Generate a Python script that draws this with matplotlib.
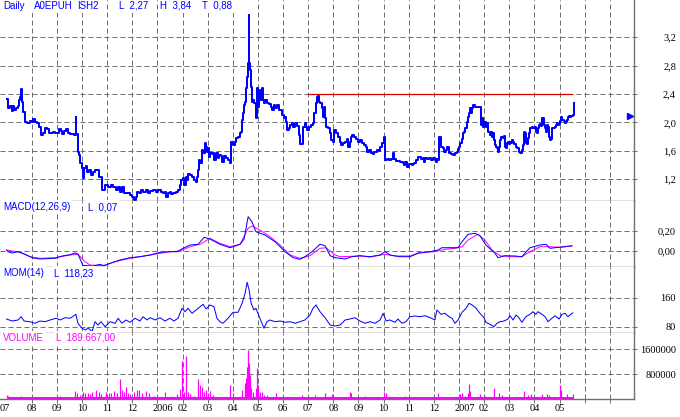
import matplotlib
matplotlib.use("Agg")
import matplotlib.pyplot as plt
from matplotlib.transforms import blended_transform_factory

# time axis: months since 2005-07 (1 = Aug 2005, 7 = Jan 2006, 19 = Jan 2007)
price_t = [0.00, 0.06, 0.14, 0.22, 0.26, 0.30, 0.38, 0.46, 0.50, 0.54, 0.58, 0.62, 0.66, 0.72,
           0.74, 0.82, 0.93, 1.01, 1.05, 1.13, 1.21, 1.29, 1.37, 1.45, 1.53, 1.61, 1.69, 1.77,
           1.85, 1.93, 2.01, 2.09, 2.17, 2.21, 2.29, 2.37, 2.45, 2.53, 2.61, 2.68, 2.72, 2.76,
           2.78, 2.84, 2.88, 2.92, 3.00, 3.04, 3.08, 3.16, 3.20, 3.28, 3.36, 3.44, 3.52, 3.56,
           3.68, 3.80, 3.92, 4.04, 4.16, 4.24, 4.36, 4.44, 4.51, 4.59, 4.67, 4.79, 4.91, 4.99,
           5.07, 5.15, 5.19, 5.27, 5.35, 5.43, 5.55, 5.63, 5.71, 5.83, 5.95, 6.03, 6.15, 6.22,
           6.30, 6.34, 6.42, 6.50, 6.54, 6.62, 6.74, 6.82, 6.90, 6.94, 7.02, 7.06, 7.14, 7.18,
           7.22, 7.30, 7.38, 7.46, 7.54, 7.58, 7.62, 7.66, 7.70, 7.78, 7.82, 7.90, 7.94, 7.98,
           8.01, 8.05, 8.09, 8.17, 8.21, 8.25, 8.33, 8.41, 8.45, 8.53, 8.57, 8.65, 8.73, 8.81,
           8.89, 8.93, 9.01, 9.09, 9.13, 9.21, 9.29, 9.33, 9.37, 9.41, 9.45, 9.49, 9.53, 9.57,
           9.61, 9.63, 9.65, 9.69, 9.73, 9.76, 9.80, 9.84, 9.92, 9.96, 10.00, 10.04, 10.08,
           10.16, 10.20, 10.24, 10.28, 10.36, 10.44, 10.52, 10.56, 10.64, 10.68, 10.76, 10.84,
           10.92, 10.96, 11.04, 11.08, 11.12, 11.16, 11.24, 11.28, 11.36, 11.40, 11.48, 11.56,
           11.63, 11.67, 11.75, 11.79, 11.87, 11.91, 11.95, 12.03, 12.11, 12.19, 12.23, 12.31,
           12.35, 12.39, 12.43, 12.47, 12.55, 12.59, 12.63, 12.67, 12.71, 12.79, 12.87, 12.91,
           12.99, 13.03, 13.11, 13.19, 13.27, 13.31, 13.39, 13.47, 13.54, 13.58, 13.66, 13.70,
           13.74, 13.82, 13.90, 13.98, 14.06, 14.14, 14.22, 14.30, 14.34, 14.42, 14.50, 14.58,
           14.62, 14.70, 14.74, 14.82, 14.86, 14.94, 15.02, 15.06, 15.14, 15.21, 15.29, 15.37,
           15.41, 15.49, 15.57, 15.65, 15.73, 15.77, 15.81, 15.85, 15.93, 16.01, 16.09, 16.13,
           16.17, 16.21, 16.29, 16.37, 16.45, 16.49, 16.57, 16.61, 16.65, 16.73, 16.81, 16.89,
           16.96, 17.04, 17.08, 17.12, 17.16, 17.20, 17.24, 17.28, 17.36, 17.40, 17.48, 17.52,
           17.60, 17.68, 17.76, 17.84, 17.92, 17.96, 18.00, 18.04, 18.12, 18.16, 18.20, 18.24,
           18.32, 18.36, 18.40, 18.44, 18.48, 18.52, 18.56, 18.60, 18.64, 18.72, 18.79, 18.83,
           18.87, 18.91, 18.95, 18.99, 19.07, 19.11, 19.15, 19.23, 19.27, 19.31, 19.35, 19.39,
           19.43, 19.47, 19.51, 19.55, 19.59, 19.63, 19.67, 19.75, 19.79, 19.83, 19.87, 19.91,
           19.95, 19.99, 20.03, 20.07, 20.11, 20.15, 20.19, 20.27, 20.31, 20.38, 20.42, 20.50,
           20.54, 20.58, 20.62, 20.66, 20.70, 20.74, 20.78, 20.82, 20.86, 20.90, 20.94, 21.02,
           21.06, 21.10, 21.14, 21.18, 21.22, 21.26, 21.30, 21.34, 21.38, 21.42, 21.46, 21.50,
           21.54, 21.58, 21.62, 21.66, 21.70, 21.74, 21.78, 21.82, 21.86, 21.90, 21.94, 21.98,
           22.02, 22.06, 22.10, 22.14, 22.18, 22.22, 22.26, 22.29, 22.33, 22.37, 22.41, 22.45,
           22.49, 22.53, 22.57]
price = [2.33, 2.20, 2.23, 2.16, 2.23, 2.18, 2.20, 2.23, 2.32, 2.36, 2.47, 2.29, 2.15, 2.11,
         2.01, 1.99, 2.02, 2.01, 2.05, 2.01, 1.99, 1.94, 1.82, 1.85, 1.92, 1.91, 1.85, 1.85,
         1.87, 1.85, 1.85, 1.91, 1.88, 1.84, 1.88, 1.91, 1.85, 1.84, 1.84, 1.82, 1.83, 2.08,
         1.84, 1.58, 1.54, 1.43, 1.36, 1.22, 1.36, 1.38, 1.30, 1.33, 1.26, 1.30, 1.33, 1.33,
         1.23, 1.05, 1.12, 1.09, 1.12, 1.09, 1.05, 1.09, 1.02, 1.09, 1.01, 1.01, 0.98, 0.95,
         0.91, 0.95, 1.02, 1.01, 1.05, 1.02, 1.05, 1.01, 1.04, 1.05, 1.02, 1.05, 1.02, 1.01,
         1.02, 0.95, 1.01, 1.02, 0.99, 1.01, 1.02, 1.05, 1.12, 1.19, 1.22, 1.12, 1.23, 1.19,
         1.27, 1.26, 1.23, 1.19, 1.16, 1.23, 1.33, 1.47, 1.43, 1.61, 1.57, 1.71, 1.66, 1.59,
         1.64, 1.51, 1.57, 1.55, 1.57, 1.47, 1.57, 1.50, 1.54, 1.53, 1.44, 1.53, 1.50, 1.47,
         1.43, 1.73, 1.68, 1.73, 1.78, 1.80, 1.85, 1.87, 2.03, 2.13, 2.25, 2.29, 2.49, 2.64,
         2.84, 3.51, 2.84, 2.74, 2.50, 2.29, 2.32, 2.27, 2.06, 2.49, 2.22, 2.46, 2.32,
         2.49, 2.32, 2.27, 2.32, 2.27, 2.26, 2.22, 2.18, 2.25, 2.20, 2.25, 2.18,
         2.18, 2.11, 2.06, 2.08, 2.01, 1.89, 1.92, 1.97, 1.99, 1.94, 1.99, 1.95,
         1.82, 1.70, 1.70, 1.94, 1.99, 1.94, 1.89, 1.94, 1.97, 1.99, 2.13, 2.27,
         2.36, 2.37, 2.29, 2.27, 2.20, 2.08, 2.22, 2.06, 1.94, 1.92, 1.85, 1.75,
         1.73, 1.89, 1.85, 1.80, 1.73, 1.68, 1.71, 1.73, 1.77, 1.66, 1.73, 1.80,
         1.82, 1.80, 1.77, 1.73, 1.75, 1.71, 1.68, 1.66, 1.59, 1.61, 1.57, 1.56,
         1.59, 1.58, 1.61, 1.60, 1.66, 1.71, 1.80, 1.47, 1.48, 1.47, 1.48, 1.57,
         1.48, 1.46, 1.46, 1.44, 1.44, 1.43, 1.40, 1.44, 1.37, 1.42, 1.41, 1.40,
         1.42, 1.43, 1.47, 1.51, 1.51, 1.48, 1.50, 1.44, 1.50, 1.48, 1.50, 1.47,
         1.50, 1.48, 1.44, 1.48, 1.47, 1.80, 1.80, 1.66, 1.64, 1.59, 1.61, 1.66,
         1.57, 1.56, 1.54, 1.57, 1.59, 1.63, 1.66, 1.71, 1.77, 1.85, 1.87, 1.92,
         2.01, 2.08, 2.13, 2.20, 2.13, 2.20, 2.25, 2.25, 2.22, 2.22, 2.22, 2.22,
         1.97, 2.06, 1.94, 2.01, 1.94, 1.99, 1.87, 1.82, 1.87, 1.80, 1.85, 1.75,
         1.68, 1.66, 1.64, 1.59, 1.66, 1.75, 1.80, 1.78, 1.81, 1.66, 1.64, 1.71,
         1.73, 1.70, 1.73, 1.71, 1.75, 1.72, 1.70, 1.66, 1.64, 1.59, 1.57, 1.61,
         1.68, 1.87, 1.85, 1.71, 1.70, 1.78, 1.85, 1.92, 1.92, 1.94, 1.92, 1.94,
         1.87, 1.85, 1.92, 1.97, 1.98, 1.95, 2.06, 2.06, 1.97, 1.92, 1.87, 1.97,
         1.94, 1.80, 1.75, 1.77, 1.92, 1.92, 1.92, 1.94, 1.97, 1.99, 1.97, 1.98,
         2.02, 2.08, 2.04, 2.04, 2.02, 1.99, 2.00, 2.04, 2.08, 2.09, 2.08, 2.09,
         2.09, 2.10, 2.27]

resist_level = 2.4
resist_t = [12.0, 22.5]
last_marker_t = 24.8
last_marker_v = 2.09

macd_t = [0.00, 0.06, 0.22, 0.46, 0.74, 1.05, 1.33, 1.93, 2.21, 2.53, 2.72, 2.84, 3.04, 3.44,
          3.72, 3.88, 4.12, 4.51, 4.91, 5.31, 5.71, 6.11, 6.50, 6.78, 7.02, 7.30, 7.62, 7.86,
          8.09, 8.49, 8.89, 9.29, 9.45, 9.61, 9.76, 9.92, 10.28, 10.68, 11.08, 11.40, 11.67,
          11.87, 12.15, 12.47, 12.67, 12.87, 13.07, 13.27, 13.47, 13.74, 14.06, 14.46, 14.86,
          15.06, 15.25, 15.65, 16.05, 16.37, 16.85, 17.16, 17.32, 17.96, 18.12, 18.36, 18.64,
          18.83, 19.07, 19.43, 19.55, 19.83, 20.23, 20.50, 20.82, 21.22, 21.46, 21.62, 21.82,
          22.10, 22.49]
macd = [0.010, -0.007, -0.020, -0.007, -0.033, -0.070, -0.080, -0.073, -0.050, -0.037, -0.020,
        -0.030, -0.145, -0.150, -0.133, -0.147, -0.123, -0.090, -0.067, -0.057, -0.040, -0.013,
        -0.007, -0.007, 0.027, 0.060, 0.067, 0.137, 0.120, 0.067, 0.033, 0.067, 0.120, 0.343,
        0.293, 0.193, 0.160, 0.093, -0.007, -0.067, -0.083, -0.057, -0.007, 0.067, 0.053,
        -0.047, -0.067, -0.073, -0.080, -0.057, -0.047, -0.057, -0.040, -0.007, -0.040, -0.057,
        -0.057, -0.023, -0.007, 0.010, 0.033, 0.033, 0.093, 0.167, 0.177, 0.153, 0.060, -0.023,
        -0.067, -0.047, -0.050, -0.057, 0.033, 0.060, 0.067, 0.027, 0.033, 0.040, 0.053]

signal_t = [0.00, 0.54, 0.93, 1.33, 1.93, 2.53, 2.84, 3.12, 3.32, 3.84, 4.31, 4.91, 5.71, 6.50,
            6.90, 7.30, 7.70, 8.09, 8.49, 8.89, 9.29, 9.61, 9.76, 10.08, 10.48, 10.88, 11.28,
            11.67, 12.07, 12.47, 12.71, 13.07, 13.27, 14.06, 14.46, 15.06, 15.45, 16.05, 16.45,
            17.04, 17.44, 17.84, 18.12, 18.36, 18.75, 19.03, 19.31, 19.63, 20.03, 20.50, 20.82,
            21.22, 21.62, 22.02, 22.49]
signal = [0.010, -0.013, -0.057, -0.073, -0.067, -0.040, -0.033, -0.107, -0.140, -0.147, -0.107,
          -0.073, -0.040, -0.007, 0.000, 0.043, 0.067, 0.127, 0.077, 0.043, 0.067, 0.227, 0.250,
          0.210, 0.143, 0.060, -0.040, -0.073, -0.047, 0.027, 0.033, -0.040, -0.057, -0.050,
          -0.060, -0.033, -0.050, -0.050, -0.013, -0.007, 0.017, 0.027, 0.043, 0.110, 0.167,
          0.110, 0.010, -0.047, -0.057, -0.057, -0.007, 0.043, 0.043, 0.037, 0.050]

mom_t = [0.00, 0.22, 0.46, 0.58, 0.70, 0.93, 1.13, 1.33, 1.53, 1.73, 1.97, 2.13, 2.33, 2.53,
         2.76, 2.84, 3.00, 3.16, 3.24, 3.40, 3.52, 3.64, 3.76, 3.92, 4.12, 4.32, 4.44, 4.59,
         4.75, 4.91, 5.11, 5.31, 5.43, 5.59, 5.71, 5.91, 6.11, 6.30, 6.50, 6.66, 6.82, 6.98,
         7.10, 7.22, 7.38, 7.54, 7.70, 7.82, 7.94, 8.09, 8.25, 8.37, 8.49, 8.61, 8.81, 9.01,
         9.21, 9.37, 9.49, 9.57, 9.65, 9.73, 9.84, 9.92, 10.08, 10.24, 10.36, 10.48, 10.68,
         10.88, 11.08, 11.28, 11.48, 11.67, 11.87, 12.07, 12.19, 12.31, 12.47, 12.67, 12.87,
         13.07, 13.27, 13.47, 13.66, 13.86, 14.06, 14.26, 14.46, 14.66, 14.86, 14.98, 15.10,
         15.25, 15.45, 15.57, 15.73, 15.89, 16.05, 16.25, 16.45, 16.65, 16.85, 17.04, 17.12,
         17.28, 17.44, 17.60, 17.72, 17.84, 17.96, 18.12, 18.28, 18.40, 18.52, 18.68, 18.83,
         18.99, 19.07, 19.23, 19.39, 19.51, 19.63, 19.79, 19.95, 20.03, 20.15, 20.27, 20.38,
         20.50, 20.66, 20.82, 20.94, 21.06, 21.14, 21.30, 21.42, 21.54, 21.66, 21.82, 21.98,
         22.10, 22.22, 22.33, 22.41, 22.53]
mom = [101.2, 95.7, 98.5, 107.6, 95.7, 93.8, 89.4, 95.7, 93.8, 98.5, 103.2, 98.5, 104.8, 103.2,
       114.2, 89.4, 75.6, 70.9, 77.2, 66.2, 93.8, 84.7, 93.8, 80.0, 93.8, 89.4, 103.2, 89.4,
       98.5, 92.1, 103.2, 95.7, 107.6, 98.5, 104.8, 98.5, 104.8, 95.7, 103.2, 95.7, 103.2, 130.8,
       121.4, 130.8, 117.0, 126.1, 135.2, 141.8, 128.8, 139.9, 135.2, 103.2, 93.8, 89.4, 103.2,
       119.7, 119.7, 144.6, 172.2, 202.5, 181.3, 144.6, 126.1, 130.8, 103.2, 75.6, 93.8, 98.5,
       93.8, 95.7, 92.1, 93.8, 89.4, 93.8, 98.5, 112.3, 130.8, 139.9, 121.4, 104.8, 84.7, 81.9,
       84.7, 98.5, 101.2, 104.8, 95.7, 89.4, 93.8, 89.4, 98.5, 117.0, 95.7, 98.5, 92.1, 101.2,
       89.4, 93.8, 107.6, 109.5, 107.6, 110.3, 104.8, 98.5, 126.1, 114.2, 117.0, 107.6, 103.2,
       89.4, 98.5, 119.7, 130.8, 144.6, 139.9, 130.8, 117.0, 104.8, 92.1, 86.6, 80.0, 89.4,
       93.8, 95.7, 101.2, 110.3, 98.5, 112.3, 104.8, 92.1, 107.6, 114.2, 121.4, 114.2, 121.4,
       114.2, 107.6, 93.8, 101.2, 110.3, 101.2, 114.2, 117.0, 107.6, 112.3, 118.2]

vol_t = [0.00, 0.06, 0.58, 0.86, 2.13, 2.72, 2.80, 2.92, 3.04, 3.12, 3.24, 3.32, 3.40, 3.56,
         3.68, 3.76, 3.96, 4.08, 4.16, 4.28, 4.40, 4.51, 4.59, 4.67, 4.75, 4.83, 4.91, 5.07,
         5.19, 5.27, 5.39, 5.55, 5.67, 5.87, 6.30, 6.58, 6.78, 6.90, 6.98, 7.06, 7.14, 7.22,
         7.30, 7.46, 7.62, 7.70, 7.78, 7.86, 7.94, 8.01, 8.09, 8.21, 8.89, 9.01, 9.37, 9.49,
         9.53, 9.57, 9.61, 9.65, 9.69, 9.73, 9.80, 9.92, 9.96, 10.00, 10.08, 10.16, 10.24,
         10.36, 10.72, 11.67, 11.75, 12.27, 12.67, 12.95, 13.66, 13.70, 13.98, 14.26, 15.02,
         15.10, 15.85, 17.16, 18.04, 18.12, 18.24, 18.36, 18.40, 18.44, 18.83, 19.03, 19.39,
         19.59, 19.71, 20.58, 20.74, 20.86, 21.30, 21.50, 21.58, 22.02, 22.06, 22.29, 22.53]
volume = [128000, 96000, 96000, 70000, 96000, 256000, 200000, 128000, 235000, 180000, 200000,
          160000, 235000, 288000, 235000, 160000, 235000, 180000, 200000, 256000, 180000, 640000,
          288000, 235000, 373000, 200000, 160000, 235000, 288000, 288000, 180000, 256000, 180000,
          96000, 235000, 96000, 150000, 309000, 1230000, 235000, 1376000, 235000, 160000, 96000,
          629000, 448000, 395000, 235000, 288000, 180000, 266000, 128000, 448000, 180000, 288000,
          501000, 661000, 1035000, 1590000, 1163000, 768000, 341000, 235000, 341000, 981000,
          448000, 235000, 235000, 128000, 128000, 180000, 70000, 128000, 128000, 180000, 160000,
          235000, 180000, 70000, 96000, 235000, 200000, 96000, 200000, 150000, 180000, 96000,
          180000, 480000, 256000, 160000, 96000, 363000, 200000, 128000, 256000, 128000, 150000,
          150000, 160000, 128000, 448000, 288000, 160000, 160000]
vol_floor = 60000

month_labels = ["08", "09", "10", "11", "12", "2006", "02", "03", "04", "05", "06", "07",
                "08", "09", "10", "11", "12", "2007", "02", "03", "04", "05"]
price_ticks = [1.2, 1.6, 2.0, 2.4, 2.8, 3.2]
price_ticklabels = ["1,2", "1,6", "2,0", "2,4", "2,8", "3,2"]
macd_ticks = [0.0, 0.2]
macd_ticklabels = ["0,00", "0,20"]
mom_ticks = [80, 160]
vol_ticks = [800000, 1600000]

BLUE = "#0000ff"
MAGENTA = "#ff00ff"
GRID = "#707070"
W, H = 680, 417
PX = 72 / 100  # one pixel in points

fig = plt.figure(figsize=(W / 100, H / 100), dpi=100)
fig.patch.set_facecolor("white")


def panel(top, bottom, ylim, ticks, labels):
    ax = fig.add_axes([0, 1 - bottom / H, 634 / W, (bottom - top) / H])
    ax.set_xlim(-0.26, 24.96)
    ax.set_ylim(*ylim)
    for s in ["left", "top"]:
        ax.spines[s].set_visible(False)
    for s in ["right", "bottom"]:
        ax.spines[s].set_color(GRID)
        ax.spines[s].set_linewidth(1.4 * PX)
    ax.set_xticks(range(1, 25))
    ax.set_xticklabels([])
    ax.tick_params(axis="x", length=0)
    ax.yaxis.tick_right()
    ax.set_yticks(ticks)
    ax.set_yticklabels(labels, family="Liberation Serif", fontsize=7.5, ha="right")
    ax.tick_params(axis="y", length=3 * PX, width=PX, color=GRID, pad=39 * PX)
    ax.grid(True, color=GRID, linewidth=PX, linestyle=(0, (5, 3)))
    ax.set_axisbelow(True)
    return ax


ax_p = panel(0, 201, (0.894, 3.725), price_ticks, price_ticklabels)
ax_m = panel(201, 267, (-0.16, 0.50), macd_ticks, macd_ticklabels)
ax_o = panel(267, 333, (62.6, 244.7), mom_ticks, [str(v) for v in mom_ticks])
ax_v = panel(333, 399, (0, 2121600), vol_ticks, [str(v) for v in vol_ticks])
ax_v.tick_params(axis="x", length=4 * PX, width=PX, color=GRID)

# price
ax_p.plot(price_t, price, color=BLUE, linewidth=2 * PX, drawstyle="steps-post")
ax_p.plot(resist_t, [resist_level, resist_level], color="#d00000", linewidth=1.2 * PX)
ax_p.plot([last_marker_t], [last_marker_v], marker=">", markersize=4, color=BLUE, linestyle="none")

# macd
ax_m.plot(signal_t, signal, color=MAGENTA, linewidth=PX)
ax_m.plot(macd_t, macd, color=BLUE, linewidth=PX)

# momentum
ax_o.plot(mom_t, mom, color=BLUE, linewidth=PX)

# volume
ax_v.fill_between([price_t[0], price_t[-1]], 0, vol_floor, color=MAGENTA, linewidth=0)
ax_v.vlines(vol_t, 0, volume, color=MAGENTA, linewidth=1.2 * PX)

# month labels under the volume panel
trans = blended_transform_factory(ax_v.transData, ax_v.transAxes)
for m, lab in zip(range(1, 23), month_labels):
    xoff = 0.22 if len(lab) == 4 else 0
    ax_v.text(m + xoff, -0.15, lab, transform=trans, ha="center", va="center",
              family="Liberation Serif", fontsize=7.5)
ax_v.text(0, -0.15, "07", transform=ax_v.transAxes, ha="left", va="center",
          family="Liberation Serif", fontsize=7.5)


def header(x, y, s, color=BLUE):
    fig.text(x / W, 1 - y / H, s, color=color, ha="left", va="center",
             family="Liberation Sans", fontsize=7,
             bbox=dict(facecolor="white", edgecolor="none", pad=1.2))


header(3, 6, "Daily")
header(34, 6, "A0EPUH")
header(77, 6, "ISH2")
header(119, 6, "L  2,27")
header(160, 6, "H  3,84")
header(202, 6, "T  0,88")
header(3, 207, "MACD(12,26,9)")
header(88, 207, "L  0,07")
header(3, 273, "MOM(14)")
header(54, 273, "L  118,23")
header(3, 338, "VOLUME", MAGENTA)
header(56, 338, "L  189.667,00", MAGENTA)

fig.savefig("out.png", dpi=100, facecolor="white")
